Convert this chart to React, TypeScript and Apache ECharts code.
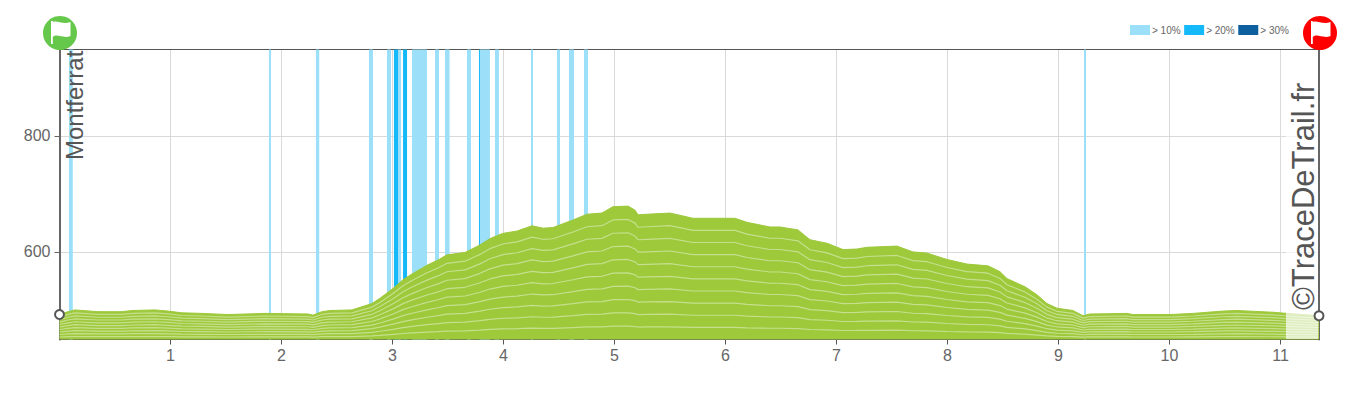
import React, { useEffect, useRef } from "react";
import * as echarts from "echarts";

const distanceKm = [0, 0.077, 0.14, 0.347, 0.563, 0.653, 0.86, 0.977, 1.104, 1.284, 1.518, 1.851, 2.239, 2.284, 2.365, 2.437, 2.635, 2.815, 2.887, 3.005, 3.095, 3.176, 3.311, 3.41, 3.491, 3.653, 3.788, 3.878, 3.995, 4.122, 4.257, 4.356, 4.446, 4.626, 4.752, 4.887, 4.986, 5.122, 5.185, 5.212, 5.293, 5.5, 5.707, 6.086, 6.194, 6.401, 6.491, 6.653, 6.761, 6.914, 7.059, 7.185, 7.275, 7.545, 7.689, 7.815, 7.995, 8.176, 8.365, 8.473, 8.536, 8.698, 8.806, 8.896, 8.986, 9.13, 9.22, 9.284, 9.617, 9.671, 10.005, 10.212, 10.482, 10.608, 10.932, 11.059, 11.347];
const elevationM = [492, 497, 500, 497, 497, 499, 500, 498, 495, 494, 492, 494, 493, 491, 497, 499, 500, 511, 520, 537, 552, 562, 577, 586, 595, 599, 612, 623, 632, 636, 645, 641, 642, 655, 665, 667, 678, 679, 672, 664, 665, 667, 658, 658, 651, 643, 643, 638, 621, 615, 604, 605, 608, 610, 600, 598, 587, 579, 576, 566, 554, 540, 526, 511, 503, 499, 490, 493, 494, 492, 492, 494, 498, 499, 496, 494, 490];
const contourFractions = [0.1, 0.2, 0.3, 0.4, 0.5, 0.6, 0.7, 0.8, 0.9];
const slope10Bands = [[0.085, 0.12], [1.887, 1.905], [2.31, 2.34], [2.788, 2.824], [2.95, 2.986], [3.05, 3.077], [3.176, 3.311], [3.383, 3.419], [3.473, 3.514], [3.671, 3.707], [3.788, 3.878], [3.923, 3.959], [4.248, 4.266], [4.482, 4.509], [4.59, 4.635], [4.725, 4.761], [9.23, 9.248]];
const slope20Bands = [[3.013, 3.05], [3.095, 3.131], [3.779, 3.788]];
const slope30Bands: number[][] = [];
const yTicks = [600, 800];
const xTicks = [1, 2, 3, 4, 5, 6, 7, 8, 9, 10, 11];
const endpoints = [[0, 492], [11.347, 490]];
const Y_MIN = 449;
const Y_MAX = 949;
const X_MAX = 11.347;
const FLAG = "M-9 -12 L-7.2 -12 L-7.2 -11 C-3 -13 3 -8 10.5 -11 L10.5 3 C3 6 -3 0 -7.2 4 L-7.2 11 L-9 11 Z";
const FONT = "'Liberation Sans', Arial, sans-serif";
const TEXT = "#666";

echarts.graphic.registerShape("flag", echarts.graphic.extendPath(FLAG, {}));

function bandSeries(name: string, color: string, bands: number[][]) {
  return {
    type: "custom",
    name,
    z: 1,
    silent: true,
    itemStyle: { color },
    data: bands,
    encode: { x: [0, 1] },
    renderItem: (_: any, api: any) => {
      const a = api.coord([api.value(0), Y_MAX]);
      const b = api.coord([api.value(1), Y_MIN]);
      return { type: "rect", shape: { x: a[0], y: a[1], width: b[0] - a[0], height: b[1] - a[1] }, style: { fill: color } };
    },
  };
}

export default function App() {
  const ref = useRef<HTMLDivElement>(null);
  useEffect(() => {
    const chart = echarts.init(ref.current!, null, { renderer: "svg" });
    const profile = distanceKm.map((d, i) => [d, elevationM[i]]);
    const contours = contourFractions.map((f) => ({
      type: "line",
      z: 4,
      silent: true,
      symbol: "none",
      lineStyle: { color: "rgba(255,255,255,0.42)", width: 1.2 },
      data: distanceKm.map((d, i) => [d, Y_MIN + (elevationM[i] - Y_MIN) * f]),
    }));
    chart.setOption({
      animation: false,
      textStyle: { fontFamily: FONT },
      grid: { left: 59.5, top: 49.5, width: 1259.5, height: 290 },
      legend: {
        left: 1130,
        top: 25,
        icon: "rect",
        itemWidth: 20,
        itemHeight: 10,
        itemGap: 3.5,
        selectedMode: false,
        padding: 0,
        textStyle: { fontSize: 10, color: TEXT, fontFamily: FONT, padding: [0, 0, 0, -3] },
        data: ["> 10%", "> 20%", "> 30%"],
      },
      xAxis: [
        {
          type: "value",
          min: 0,
          max: X_MAX,
          axisLine: { show: true, lineStyle: { color: "#555", width: 1 } },
          axisTick: { show: true, length: 5, lineStyle: { color: "#555" }, customValues: xTicks },
          axisLabel: { customValues: xTicks, fontSize: 16, color: TEXT, margin: 8, fontFamily: FONT },
          splitLine: { show: true, lineStyle: { color: "#d9d9d9" } },
        },
        {
          type: "value",
          position: "top",
          min: 0,
          max: X_MAX,
          axisLine: { show: true, onZero: false, lineStyle: { color: "#555", width: 1 } },
          axisTick: { show: false },
          axisLabel: { show: false },
          splitLine: { show: false },
        },
      ],
      yAxis: [
        {
          type: "value",
          min: Y_MIN,
          max: Y_MAX,
          axisLine: { show: true, onZero: false, lineStyle: { color: "#666", width: 2 } },
          axisTick: { show: true, length: 5, lineStyle: { color: "#666" }, customValues: yTicks },
          axisLabel: { customValues: yTicks, fontSize: 16, color: TEXT, margin: 9, fontFamily: FONT },
          splitLine: { show: true, lineStyle: { color: "#d9d9d9" } },
        },
        {
          type: "value",
          position: "right",
          min: Y_MIN,
          max: Y_MAX,
          axisLine: { show: true, onZero: false, lineStyle: { color: "#666", width: 2 } },
          axisTick: { show: false },
          axisLabel: { show: false },
          splitLine: { show: false },
        },
      ],
      series: [
        bandSeries("> 10%", "#9bdff9", slope10Bands),
        bandSeries("> 20%", "#14b9f9", slope20Bands),
        bandSeries("> 30%", "#0d5f9e", slope30Bands),
        {
          type: "line",
          z: 3,
          silent: true,
          symbol: "none",
          lineStyle: { color: "#9dc93b", width: 1 },
          areaStyle: { color: "#9dc93b", opacity: 1 },
          data: profile,
        },
        ...contours,
        {
          type: "scatter",
          z: 20,
          zlevel: 1,
          silent: true,
          clip: false,
          symbol: "circle",
          symbolSize: 9,
          itemStyle: { color: "#fff", borderColor: "#555", borderWidth: 2, opacity: 1 },
          data: endpoints,
        },
      ],
      graphic: [
        { type: "rect", z: 50, silent: true, shape: { x: 1286, y: 50, width: 32, height: 289 }, style: { fill: "rgba(255,255,255,0.68)" } },
        { type: "text", z: 60, silent: true, x: 62, y: 160, rotation: Math.PI / 2, style: { text: "Montferrat", font: `24px ${FONT}`, fill: "#555", align: "left", verticalAlign: "top" } },
        { type: "text", z: 60, silent: true, x: 1288, y: 310, rotation: Math.PI / 2, style: { text: "©TraceDeTrail.fr", font: `31px ${FONT}`, fill: "#555", align: "left", verticalAlign: "top" } },
        { type: "circle", z: 70, silent: true, shape: { cx: 60, cy: 33, r: 17 }, style: { fill: "#66c84a" } },
        { type: "flag", z: 71, silent: true, x: 60, y: 33, style: { fill: "#fff" } },
        { type: "circle", z: 70, silent: true, shape: { cx: 1320, cy: 33, r: 17 }, style: { fill: "#ff0000" } },
        { type: "flag", z: 71, silent: true, x: 1320, y: 33, style: { fill: "#fff" } },
      ],
    });
    return () => chart.dispose();
  }, []);
  return <div ref={ref} style={{ position: "absolute", left: 0, top: 0, width: 1350, height: 400 }} />;
}
